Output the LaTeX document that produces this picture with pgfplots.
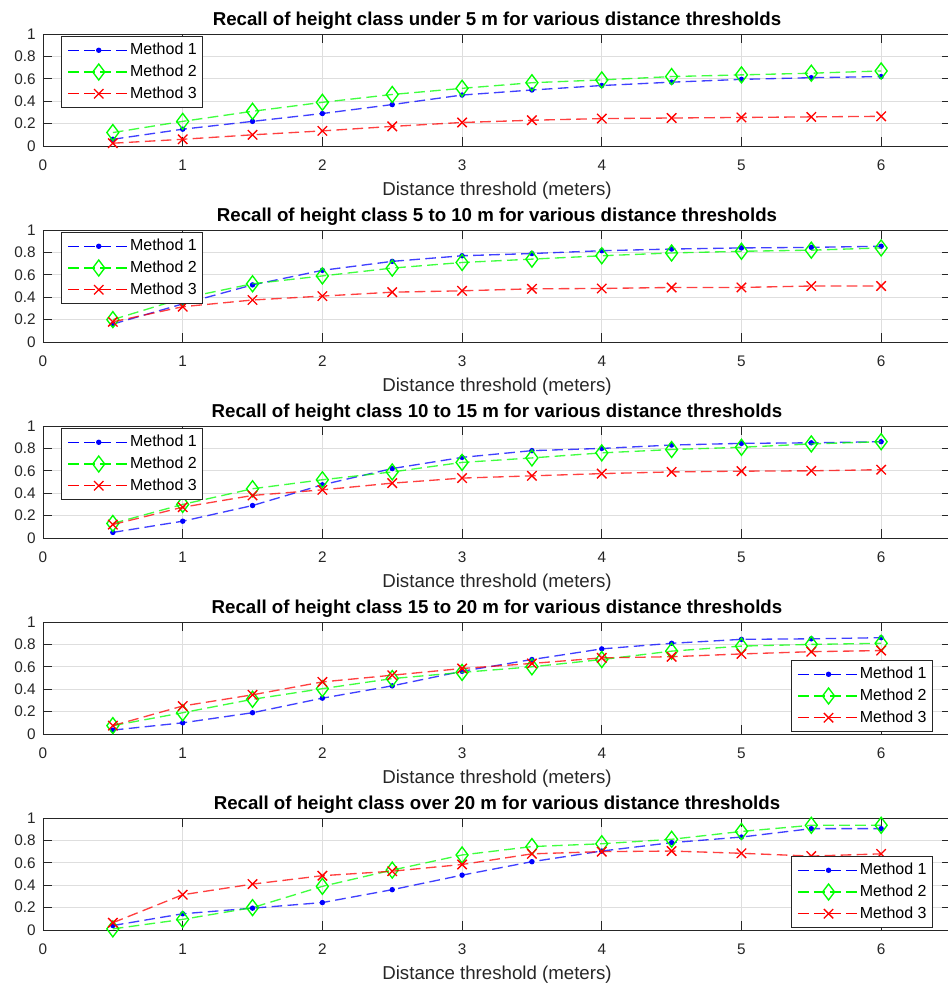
\documentclass[border=0pt]{standalone}
\usepackage{fontspec}
\setmainfont{Liberation Sans}
\usepackage{pgfplots}
\pgfplotsset{compat=1.18}
\usepackage{pgfplotstable}

\definecolor{axgray}{rgb}{0.15,0.15,0.15}
\definecolor{gridgray}{rgb}{0.87,0.87,0.87}

% Recall per height class: x = distance threshold (m), m1..m3 = methods
\pgfplotstableread{
x   m1    m2    m3
0.5 0.06  0.12  0.025
1   0.15  0.22  0.06
1.5 0.22  0.31  0.10
2   0.29  0.39  0.135
2.5 0.37  0.46  0.175
3   0.455 0.515 0.21
3.5 0.50  0.565 0.23
4   0.54  0.59  0.245
4.5 0.57  0.62  0.25
5   0.595 0.635 0.255
5.5 0.61  0.65  0.26
6   0.62  0.67  0.265
}\classA
\pgfplotstableread{
x   m1    m2    m3
0.5 0.16  0.20  0.18
1   0.34  0.39  0.315
1.5 0.51  0.52  0.375
2   0.64  0.59  0.41
2.5 0.72  0.66  0.445
3   0.77  0.71  0.457
3.5 0.79  0.74  0.475
4   0.815 0.77  0.478
4.5 0.83  0.795 0.487
5   0.84  0.81  0.487
5.5 0.845 0.82  0.50
6   0.855 0.84  0.50
}\classB
\pgfplotstableread{
x   m1    m2    m3
0.5 0.05  0.13  0.12
1   0.15  0.30  0.275
1.5 0.29  0.44  0.38
2   0.475 0.52  0.43
2.5 0.62  0.59  0.49
3   0.72  0.675 0.535
3.5 0.78  0.715 0.555
4   0.80  0.76  0.575
4.5 0.83  0.79  0.59
5   0.845 0.81  0.597
5.5 0.85  0.84  0.60
6   0.86  0.86  0.61
}\classC
\pgfplotstableread{
x   m1    m2    m3
0.5 0.035 0.075 0.075
1   0.10  0.19  0.25
1.5 0.19  0.31  0.35
2   0.32  0.405 0.465
2.5 0.43  0.495 0.525
3   0.56  0.55  0.585
3.5 0.665 0.60  0.63
4   0.76  0.665 0.68
4.5 0.81  0.74  0.69
5   0.845 0.785 0.715
5.5 0.85  0.80  0.735
6   0.86  0.81  0.745
}\classD
\pgfplotstableread{
x   m1    m2    m3
0.5 0.04  0.01  0.065
1   0.145 0.095 0.315
1.5 0.195 0.20  0.41
2   0.245 0.39  0.485
2.5 0.36  0.535 0.525
3   0.49  0.67  0.585
3.5 0.61  0.745 0.68
4   0.705 0.77  0.70
4.5 0.78  0.81  0.705
5   0.83  0.88  0.685
5.5 0.905 0.935 0.66
6   0.905 0.935 0.68
}\classE

\pgfplotsset{
  recallaxis/.style={
    scale only axis, width=681pt, height=84pt, anchor=south west,
    xmin=0, xmax=6.5, ymin=0, ymax=1,
    xtick={0,1,...,6}, ytick={0,0.2,0.4,0.6,0.8,1},
    grid=major, major grid style={gridgray, line width=0.6pt},
    tick align=inside, major tick length=6.75pt,
    axis line style={axgray, line width=0.7pt},
    tick style={axgray, line width=0.7pt},
    clip mode=individual,
    /pgf/number format/assume math mode=true,
    ticklabel style={font=\fontsize{11.5}{13}\selectfont, text=axgray},
    xticklabel style={anchor=base, yshift=-18pt},
    yticklabel style={anchor=east, inner sep=0pt, xshift=-5.25pt},
    title style={at={(0.5,1)}, anchor=base, yshift=0.3pt,
      font=\bfseries\fontsize{14}{16}\selectfont},
    xlabel={Distance threshold (meters)},
    xlabel style={at={(0.5,0)}, anchor=base, yshift=-36.75pt,
      font=\fontsize{14}{16}\selectfont, text=axgray},
    legend cell align=left,
    legend image code/.code={%
      \draw[mark repeat=2, mark phase=2, #1, draw opacity=1]
        plot coordinates {(0pt,0pt) (23pt,0pt) (46pt,0pt)};},
    legend style={font=\fontsize{12}{14}\selectfont, draw=axgray,
      line width=0.6pt, fill=white, inner xsep=4.5pt, inner ysep=2.25pt,
      nodes={inner xsep=0pt, inner ysep=2pt, text height=9.5pt, text depth=2.8pt},
      /tikz/every even column/.append style={column sep=3.75pt}},
  },
  legendNW/.style={legend style={at={(0,1)}, anchor=north west,
      xshift=13.5pt, yshift=-1.5pt}},
  legendSE/.style={legend style={at={(1,0)}, anchor=south east,
      xshift=-13.5pt, yshift=1.5pt}},
  mA/.style={color=blue, draw=blue, line width=1pt, draw opacity=0.75,
    dash pattern=on 8pt off 4pt,
    mark=*, mark size=1.5pt, mark options={solid, draw opacity=1, fill=blue}},
  mB/.style={color=green, draw=green, line width=1pt, draw opacity=0.75,
    dash pattern=on 8pt off 4pt,
    mark=diamond, mark size=6pt, mark options={solid, draw opacity=1}},
  mC/.style={color=red, draw=red, line width=1pt, draw opacity=0.75,
    dash pattern=on 8pt off 4pt,
    mark=x, mark size=5pt, mark options={solid, draw opacity=1}},
}

\newcommand{\methods}[1]{%
  \addplot[mA] table[x=x, y=m1] {#1};
  \addplot[mB] table[x=x, y=m2] {#1};
  \addplot[mC] table[x=x, y=m3] {#1};
  \legend{Method 1, Method 2, Method 3}}

\begin{document}
\begin{tikzpicture}
\useasboundingbox (0,0) rectangle (710.25pt,-739.5pt);

\begin{axis}[recallaxis, legendNW, at={(32.25pt,-109.5pt)},
  title={Recall of height class under 5 m for various distance thresholds}]
\methods{\classA}
\end{axis}

\begin{axis}[recallaxis, legendNW, at={(32.25pt,-256.5pt)},
  title={Recall of height class 5 to 10 m for various distance thresholds}]
\methods{\classB}
\end{axis}

\begin{axis}[recallaxis, legendNW, at={(32.25pt,-403.5pt)},
  title={Recall of height class 10 to 15 m for various distance thresholds}]
\methods{\classC}
\end{axis}

\begin{axis}[recallaxis, legendSE, at={(32.25pt,-550.5pt)},
  title={Recall of height class 15 to 20 m for various distance thresholds}]
\methods{\classD}
\end{axis}

\begin{axis}[recallaxis, legendSE, at={(32.25pt,-697.5pt)},
  title={Recall of height class over 20 m for various distance thresholds}]
\methods{\classE}
\end{axis}
\end{tikzpicture}
\end{document}
